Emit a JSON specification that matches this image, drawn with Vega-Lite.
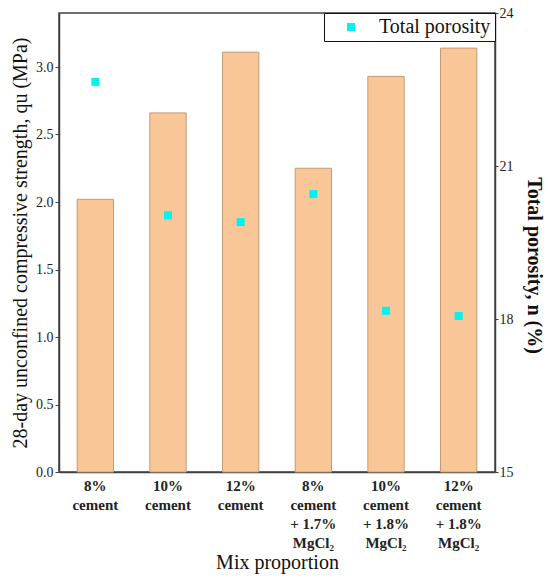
{
  "$schema": "https://vega.github.io/schema/vega-lite/v6.json",
  "width": 436,
  "height": 459,
  "autosize": {"type": "none"},
  "padding": {"left": 59, "top": 13, "right": 55, "bottom": 109},
  "data": {
    "values": [
      {"mix": "8%|cement", "strength": 2.02, "porosity": 22.65},
      {"mix": "10%|cement", "strength": 2.66, "porosity": 20.03},
      {"mix": "12%|cement", "strength": 3.11, "porosity": 19.9},
      {"mix": "8%|cement|+ 1.7%|MgCl₂", "strength": 2.25, "porosity": 20.45},
      {"mix": "10%|cement|+ 1.8%|MgCl₂", "strength": 2.93, "porosity": 18.16},
      {"mix": "12%|cement|+ 1.8%|MgCl₂", "strength": 3.14, "porosity": 18.06}
    ]
  },
  "encoding": {
    "x": {
      "field": "mix",
      "type": "nominal",
      "sort": null,
      "title": "Mix proportion",
      "scale": {"paddingInner": 0.5, "paddingOuter": 0.25},
      "axis": {
        "labelAngle": 0,
        "labelExpr": "split(datum.label, '|')",
        "labelFont": "Liberation Serif",
        "labelFontWeight": "bold",
        "labelFontSize": 15,
        "labelLineHeight": 19,
        "labelPadding": 6,
        "labelBaseline": "top",
        "ticks": false,
        "titleFontSize": 20,
        "titleFontWeight": "normal",
        "titlePadding": 2
      }
    }
  },
  "layer": [
    {
      "mark": {"type": "bar", "color": "#F9C697", "stroke": "#C49A78", "strokeWidth": 1},
      "encoding": {
        "y": {
          "field": "strength",
          "type": "quantitative",
          "title": "28-day unconfined compressive strength, qu (MPa)",
          "scale": {"domain": [0, 3.4], "nice": false},
          "axis": {
            "orient": "left",
            "values": [0, 0.5, 1, 1.5, 2, 2.5, 3],
            "format": ".1f",
            "grid": false,
            "tickSize": 4,
            "labelPadding": 2,
            "labelFont": "Liberation Serif",
            "titleFontSize": 20,
            "titleFontWeight": "normal",
            "titlePadding": 5
          }
        }
      }
    },
    {
      "mark": {"type": "point", "shape": "square", "filled": true, "size": 64, "opacity": 1},
      "encoding": {
        "y": {
          "field": "porosity",
          "type": "quantitative",
          "title": "Total porosity, n (%)",
          "scale": {"domain": [15, 24], "nice": false},
          "axis": {
            "orient": "right",
            "values": [15, 18, 21, 24],
            "format": "d",
            "grid": false,
            "tickSize": 3,
            "labelPadding": 1,
            "labelFont": "Liberation Serif",
            "titleFontSize": 20,
            "titleFontWeight": "bold",
            "titlePadding": 10,
            "titleY": 252
          }
        },
        "color": {
          "datum": "Total porosity",
          "type": "nominal",
          "scale": {"range": ["#00F2F2"]},
          "legend": {
            "title": null,
            "orient": "top-right",
            "offset": 0,
            "symbolType": "square",
            "symbolSize": 64,
            "labelFontSize": 20,
            "labelOffset": 18,
            "symbolOffset": 13
          }
        }
      }
    }
  ],
  "resolve": {"scale": {"y": "independent"}},
  "config": {
    "font": "Liberation Serif",
    "view": {"stroke": "#404040", "strokeWidth": 1.5},
    "axis": {
      "domainColor": "#404040",
      "domainWidth": 1.5,
      "tickColor": "#404040",
      "labelColor": "#222222",
      "titleColor": "#111111",
      "labelFontSize": 14,
      "labelFont": "Liberation Serif",
      "titleFont": "Liberation Serif"
    },
    "legend": {
      "labelFont": "Liberation Serif",
      "labelColor": "#111111",
      "padding": 4,
      "strokeColor": "#111111",
      "fillColor": "white"
    }
  }
}
